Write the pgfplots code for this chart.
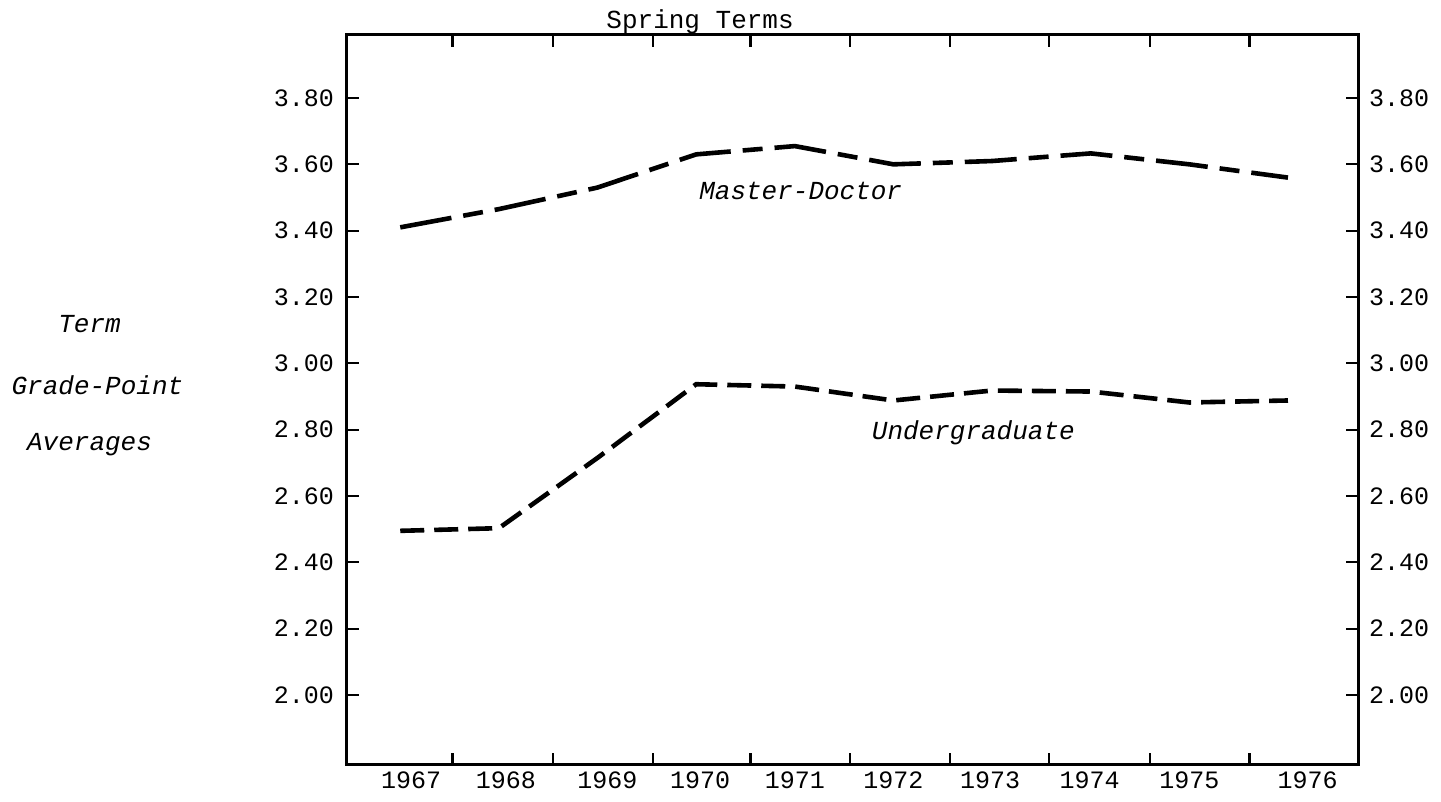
\documentclass[border=0pt]{standalone}
\usepackage{fontspec}
\setmainfont{Liberation Mono}
\usepackage{pgfplots}
\pgfplotsset{compat=1.18}

\pgfplotsset{
  gpa box/.style={
    scale only axis, width=505.5pt, height=365pt,
    xmin=1966.46, xmax=1976.71, ymin=1.789, ymax=3.99,
    ytick={2.0,2.2,2.4,2.6,2.8,3.0,3.2,3.4,3.6,3.8},
    tick align=inside, major tick length=6pt, minor tick length=6pt,
    axis line style={line width=1.5pt},
    every tick/.style={line width=1.1pt, black},
    /pgf/number format/fixed, /pgf/number format/fixed zerofill,
    /pgf/number format/precision=2, /pgf/number format/assume math mode=true,
    tick label style={font=\fontsize{12.5}{14}\selectfont},
    clip=false,
  }
}

\begin{document}
\begin{tikzpicture}
\begin{axis}[gpa box,
  xtick={1967.11,1968.07,1969.1,1970.04,1971.0,1972.0,1972.98,1973.99,1975.0,1976.2},
  xticklabels={1967,1968,1969,1970,1971,1972,1973,1974,1975,1976},
  major x tick style={draw=none},
  minor xtick={1967.53,1968.55,1969.56,1970.55,1971.56,1972.57,1973.58,1974.60,1975.61},
  minor x tick style={line width=1.1pt, black},
  yticklabel style={xshift=-3pt},
]
\coordinate (sw) at (rel axis cs:0,0);
\coordinate (ne) at (rel axis cs:1,1);

% Master-Doctor
\addplot[black, line width=2.3pt, dash pattern=on 26pt off 6pt on 10pt off 6pt]
  coordinates {(1967,3.41) (1968,3.465) (1969,3.53) (1970,3.63) (1971,3.655)
               (1972,3.60) (1973,3.61) (1974,3.633) (1975,3.60) (1976,3.56)};
% Undergraduate
\addplot[black, line width=2.3pt, dash pattern=on 12pt off 5pt]
  coordinates {(1967,2.495) (1968,2.503) (1969,2.715) (1970,2.937) (1971,2.93)
               (1972,2.888) (1973,2.918) (1974,2.915) (1975,2.882) (1976,2.888)};

\node[font=\fontsize{13}{15}\selectfont\itshape] at (axis cs:1971.06,3.52) {Master-Doctor};
\node[font=\fontsize{13}{15}\selectfont\itshape] at (axis cs:1972.81,2.79) {Undergraduate};
\node[font=\fontsize{13}{15}\selectfont, anchor=base] at (axis cs:1970.04,4.011) {Spring Terms};
\node[font=\fontsize{13}{15}\selectfont\itshape] at (axis cs:1963.85,3.119) {Term};
\node[font=\fontsize{13}{15}\selectfont\itshape] at (axis cs:1963.93,2.935) {Grade-Point};
\node[font=\fontsize{13}{15}\selectfont\itshape] at (axis cs:1963.85,2.754) {Averages};
\end{axis}

\begin{axis}[gpa box,
  xtick=\empty,
  yticklabel pos=right,
  yticklabel style={xshift=2pt},
]
\end{axis}

\path ([shift={(-173.5pt,-18.5pt)}]sw) rectangle ([shift={(41.5pt,17.5pt)}]ne);
\end{tikzpicture}
\end{document}
